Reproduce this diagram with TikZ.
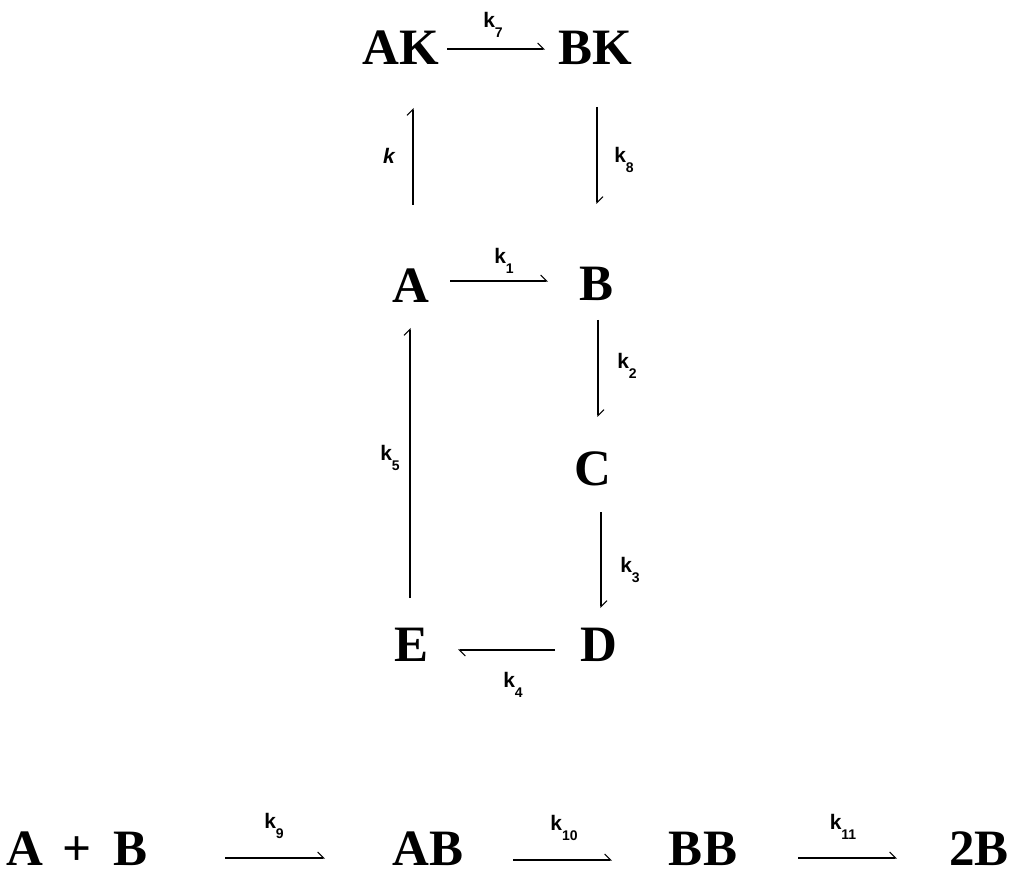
\documentclass[tikz,border=0pt]{standalone}
\usepackage{fontspec}
\setmainfont{Liberation Serif}
\newfontfamily\labfont{Liberation Sans}
\usetikzlibrary{arrows.meta}
\newcommand{\kk}[1]{k\raisebox{-10pt}{\fontsize{14}{14}\selectfont #1}}
\tikzset{
  species/.style={inner sep=0pt, font=\fontsize{51}{51}\selectfont\bfseries},
  klab/.style={inner sep=0pt, font=\fontsize{21}{21}\selectfont\labfont\bfseries},
  rxn/.style={line width=1.3pt, -{Straight Barb[harpoon,length=6pt,width=12pt,line width=1.1pt]}},
}
\begin{document}
\begin{tikzpicture}[x=1pt,y=-1pt]
\useasboundingbox (0,0) rectangle (1015,874);
% species
\node[species] (AK) at (401,48) {AK};
\node[species] (BK) at (595,48) {BK};
\node[species] (A) at (411,286) {A};
\node[species] (B) at (597,284) {B};
\node[species] (C) at (593,469) {C};
\node[species] (D) at (599,645) {D};
\node[species] (E) at (412,645) {E};
\node[species] (ApB) at (77,849) {A\hspace{20pt}+\hspace{22pt}B};
\node[species] (AB) at (428,849) {AB};
\node[species] (BB) at (703,849) {BB};
\node[species] (TB) at (979,849) {2B};
% connectors
\draw[rxn] ([xshift=46pt,yshift=-1pt]AK.center) -- ([xshift=-50pt,yshift=-1pt]BK.center);
\draw[rxn] ([xshift=39pt,yshift=5pt]A.center) -- ([xshift=-49pt,yshift=3pt]B.center);
\draw[rxn] ([xshift=2pt,yshift=81pt]A.center) -- ([xshift=12pt,yshift=-60pt]AK.center);
\draw[rxn] ([xshift=2pt,yshift=-59pt]BK.center) -- ([xshift=0pt,yshift=80pt]B.center);
\draw[rxn] ([xshift=1pt,yshift=-36pt]B.center) -- ([xshift=5pt,yshift=52pt]C.center);
\draw[rxn] ([xshift=8pt,yshift=-43pt]C.center) -- ([xshift=2pt,yshift=37pt]D.center);
\draw[rxn] ([xshift=-44pt,yshift=-5pt]D.center) -- ([xshift=46pt,yshift=-5pt]E.center);
\draw[rxn] ([xshift=-2pt,yshift=47pt]E.center) -- ([xshift=-1pt,yshift=-42pt]A.center);
\draw[rxn] ([xshift=148pt,yshift=-9pt]ApB.center) -- ([xshift=-103pt,yshift=-9pt]AB.center);
\draw[rxn] ([xshift=85pt,yshift=-11pt]AB.center) -- ([xshift=-91pt,yshift=-11pt]BB.center);
\draw[rxn] ([xshift=95pt,yshift=-9pt]BB.center) -- ([xshift=-82pt,yshift=-9pt]TB.center);
% rate constant labels
\node[klab] (k7) at (493,25) {\kk{7}};
\node[klab] (k1) at (504,261) {\kk{1}};
\node[klab] (k6) at (389,156) {\itshape k};
\node[klab] (k8) at (624,160) {\kk{8}};
\node[klab] (k2) at (627,366) {\kk{2}};
\node[klab] (k3) at (630,570) {\kk{3}};
\node[klab] (k4) at (513,685) {\kk{4}};
\node[klab] (k5) at (390,458) {\kk{5}};
\node[klab] (k9) at (274,826) {\kk{9}};
\node[klab] (k10) at (564,828) {\kk{10}};
\node[klab] (k11) at (843,827) {\kk{11}};
\end{tikzpicture}
\end{document}
